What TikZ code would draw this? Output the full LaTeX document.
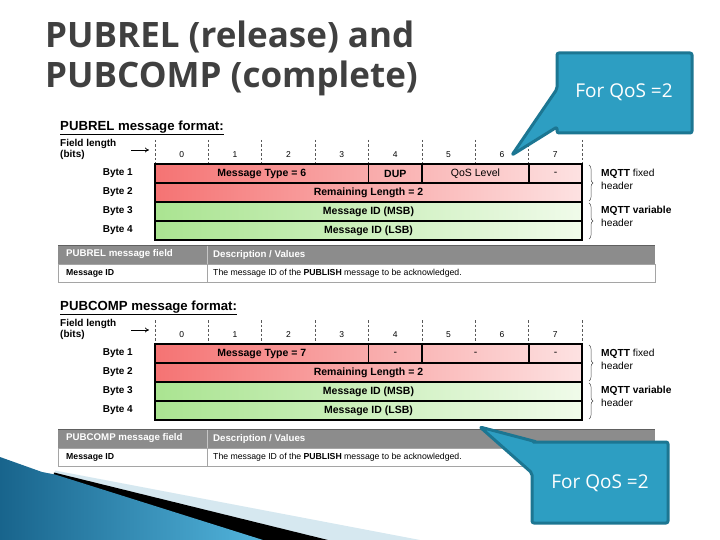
\documentclass[tikz,border=0pt]{standalone}
\usepackage{fontspec}
\setmainfont{Liberation Sans}
\newfontfamily\titlefont{Open Sans}
\usetikzlibrary{decorations.pathreplacing,arrows.meta}
\definecolor{redL}{RGB}{245,115,115}
\definecolor{redR}{RGB}{253,226,226}
\definecolor{grnL}{RGB}{170,228,145}
\definecolor{grnR}{RGB}{240,251,234}
\definecolor{hdrgray}{RGB}{140,140,140}
\definecolor{tblline}{RGB}{165,165,165}
\definecolor{callfill}{RGB}{45,158,194}
\definecolor{callline}{RGB}{28,118,146}
\definecolor{titlegray}{RGB}{64,64,64}
\definecolor{decoD}{RGB}{24,100,140}
\definecolor{decoL}{RGB}{82,180,220}
\definecolor{decolight}{RGB}{214,232,240}
\tikzset{
  fmttitle/.style={anchor=west,inner sep=0pt,font=\fontsize{13.2}{15}\selectfont\bfseries},
  fieldlen/.style={anchor=west,inner sep=0pt,align=left,font=\fontsize{10}{11}\selectfont\bfseries},
  fieldarrow/.style={-{To[length=4pt,width=5pt]},line width=0.7pt},
  bitdash/.style={dashed,dash pattern=on 2.5pt off 2pt,line width=0.6pt,gray!70!black},
  bitnum/.style={inner sep=0pt,font=\fontsize{8.5}{9}\selectfont},
  rowline/.style={line width=1.2pt,black},
  cell/.style={inner sep=0pt,font=\fontsize{10.5}{12}\selectfont\bfseries},
  cellreg/.style={inner sep=0pt,font=\fontsize{10.5}{12}\selectfont},
  bytelbl/.style={anchor=east,inner sep=0pt,font=\fontsize{10}{11}\selectfont\bfseries},
  bracestyle/.style={decorate,decoration={brace,amplitude=4pt},line width=0.5pt,gray!60!black},
  bracelbl/.style={anchor=west,inner sep=0pt,align=left,font=\fontsize{10.2}{13}\selectfont},
  hdrtxt/.style={anchor=west,inner sep=0pt,text=white,font=\fontsize{9.7}{11}\selectfont\bfseries},
  rowtxt/.style={anchor=west,inner sep=0pt,font=\fontsize{8.7}{10}\selectfont},
  callout/.style={fill=callfill,draw=callline,line width=3pt,rounded corners=2pt,line join=round},
  calltxt/.style={text=white,inner sep=0pt,font=\titlefont\fontsize{19}{22}\selectfont},
  titletxt/.style={anchor=base west,inner sep=0pt,text=titlegray,font=\titlefont\bfseries\fontsize{35}{40}\selectfont}
}
% #1 prefix, #2 name, #3 type, #4 col4, #5 col5-6, #6 col7, #7 block shift, #8 table shift
\newcommand\MsgBlock[8]{%
\begin{scope}[yshift=-#7pt]
  \node[fmttitle] (#1title) at (60,128) {\underline{#2 message format:}};
  \node[fieldlen] (#1fl) at (60,149.5) {Field length\\(bits)};
  \coordinate (#1arS) at (131,150);
  \coordinate (#1arE) at (149,150);
  \draw[fieldarrow] (#1arS) -- (#1arE);
  \foreach \i in {0,...,8} \draw[bitdash] ({155+53.375*\i},140) -- ({155+53.375*\i},164);
  \foreach \i in {0,...,7} \node[bitnum] (#1b\i) at ({155+53.375*(\i+0.5)},155) {\i};
  \shade[left color=redL,right color=redR] (155,164) rectangle (582,202);
  \shade[left color=grnL,right color=grnR] (155,202) rectangle (582,240);
  \draw[rowline] (155,164) rectangle (582,240);
  \draw[rowline] (155,183) -- (582,183);
  \draw[rowline] (155,202) -- (582,202);
  \draw[rowline] (155,221) -- (582,221);
  \draw[rowline] (368.5,164) -- (368.5,183);
  \draw[rowline] (422,164) -- (422,183);
  \draw[rowline] (529,164) -- (529,183);
  \node[cell] (#1type) at (261.75,173.5) {Message Type = #3};
  \node[cell] (#1c4) at (395.25,173.5) {#4};
  \node[cellreg] (#1c56) at (475.5,173.5) {#5};
  \node[cellreg] (#1c7) at (555.5,173.5) {#6};
  \node[cell] (#1rl) at (368.5,192.5) {Remaining Length = 2};
  \node[cell] (#1msb) at (368.5,211.5) {Message ID (MSB)};
  \node[cell] (#1lsb) at (368.5,230.5) {Message ID (LSB)};
  \node[bytelbl] (#1y1) at (133,173.5) {Byte 1};
  \node[bytelbl] (#1y2) at (133,192.5) {Byte 2};
  \node[bytelbl] (#1y3) at (133,211.5) {Byte 3};
  \node[bytelbl] (#1y4) at (133,230.5) {Byte 4};
  \coordinate (#1brA1) at (589,165);
  \coordinate (#1brA2) at (589,201);
  \coordinate (#1brB1) at (589,203);
  \coordinate (#1brB2) at (589,239);
  \draw[bracestyle] (#1brA1) -- (#1brA2);
  \draw[bracestyle] (#1brB1) -- (#1brB2);
  \node[bracelbl] (#1fix) at (601,179.5) {\textbf{MQTT} fixed\\header};
  \node[bracelbl] (#1var) at (601,216) {\textbf{MQTT variable}\\header};
\end{scope}
\begin{scope}[yshift=-#8pt]
  \fill[hdrgray] (58,245) rectangle (655,264);
  \draw[line width=1pt,gray!75!black] (58,245) -- (655,245);
  \draw[tblline,line width=0.6pt] (58,264) rectangle (655,282);
  \draw[tblline,line width=0.6pt] (207,264) -- (207,282);
  \draw[gray!45,line width=0.6pt] (207,245.5) -- (207,264);
  \node[hdrtxt] (#1h1) at (66,254.5) {#2 message field};
  \node[hdrtxt] (#1h2) at (213,254.5) {Description / Values};
  \node[rowtxt] (#1r1) at (66,273) {\textbf{Message ID}};
  \node[rowtxt] (#1r2) at (213,273) {The message ID of the \textbf{PUBLISH} message to be acknowledged.};
\end{scope}
}
\begin{document}
\begin{tikzpicture}[x=1pt,y=-1pt]
\useasboundingbox (0,0) rectangle (720,540);
\fill[white] (0,0) rectangle (720,540);
% bottom-left decoration
\fill[decolight] (55,470.5) -- (420,540) -- (45,540) -- cycle;
\fill[black] (54,472.5) -- (328,540) -- (45,540) -- cycle;
\shade[left color=decoD,right color=decoL] (0,457) -- (42,472) -- (55,474.5) -- (263,540) -- (0,540) -- cycle;
% title
\node[titletxt] (title1) at (45,48) {PUBREL (release) and};
\node[titletxt] (title2) at (45,88) {PUBCOMP (complete)};
% blocks
\MsgBlock{rel}{PUBREL}{6}{DUP}{QoS Level}{-}{0}{0}
\MsgBlock{comp}{PUBCOMP}{7}{\mdseries -}{-}{-}{180}{184}
% callouts
\path[callout] (557,53) -- (692,53) -- (692,133) -- (557,133) -- (557,127) -- (512,155) -- (557,89) -- cycle;
\node[calltxt] (call1) at (624,92) {For QoS =2};
\path[callout] (532,442) -- (668,442) -- (668,523) -- (532,523) -- (532,473) -- (480,427) -- (537,442) -- cycle;
\node[calltxt] (call2) at (600,483) {For QoS =2};
\end{tikzpicture}
\end{document}
